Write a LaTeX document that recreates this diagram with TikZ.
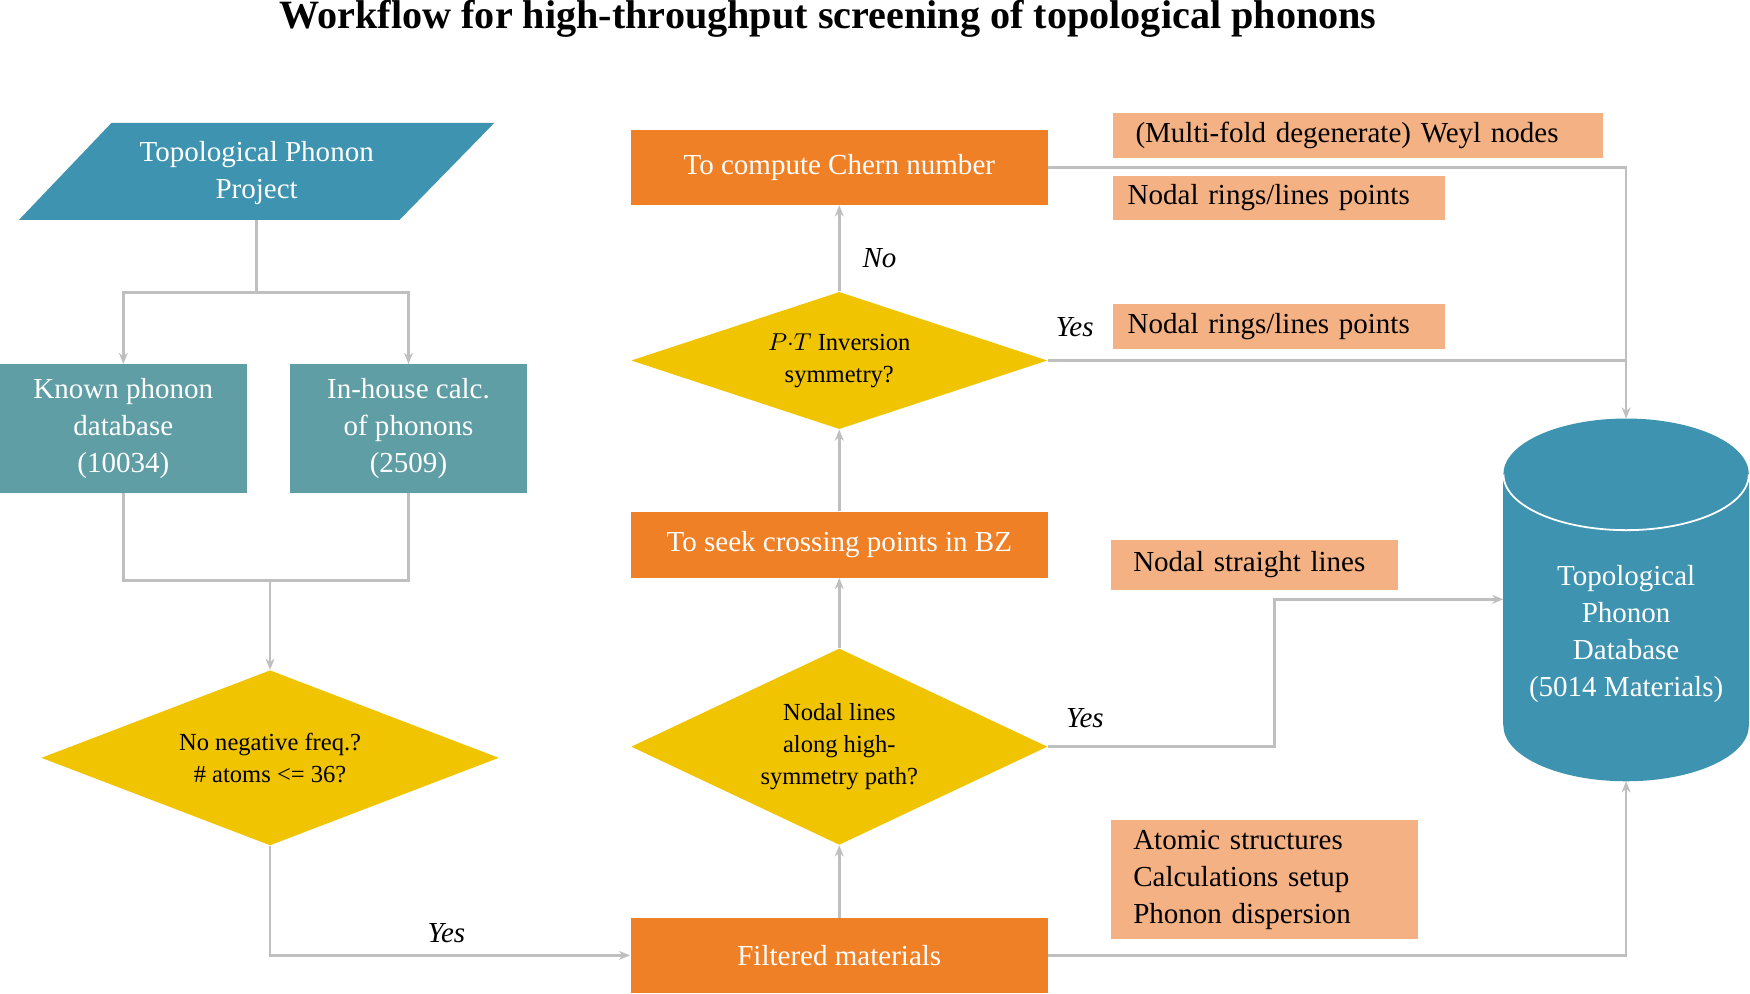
\documentclass[tikz,border=0pt]{standalone}
\usepackage{fontspec}
\setmainfont{Liberation Serif}
\usetikzlibrary{shapes.geometric,arrows.meta}
\definecolor{cblue}{HTML}{3E94B0}
\definecolor{cteal}{HTML}{5E9EA4}
\definecolor{cyel}{HTML}{F0C400}
\definecolor{corg}{HTML}{F08026}
\definecolor{csal}{HTML}{F4B183}
\definecolor{cline}{HTML}{BFBFBF}
\begin{document}
\begin{tikzpicture}[x=0.5pt,y=-0.5pt,
  box/.style={rectangle,inner sep=0pt,text=white,font=\fontsize{13}{16.5}\selectfont,align=center},
  org/.style={box,fill=corg,minimum width=187pt},
  teal/.style={box,fill=cteal,minimum height=57.5pt},
  dia/.style={diamond,aspect=2.6,inner sep=0pt,fill=cyel,font=\fontsize{11}{14.5}\selectfont,align=center},
  sal/.style={rectangle,fill=csal,inner sep=0pt,anchor=north west,font=\fontsize{13}{16.5}\selectfont,align=left},
  lab/.style={font=\itshape\fontsize{13}{16}\selectfont},
  conn/.style={draw=cline,line width=1.2pt},
  arr/.style={conn,-{Stealth[length=5pt,width=4pt]}}]
\useasboundingbox (0,0) rectangle (1568,890);
\node[font=\bfseries\fontsize{18}{22}\selectfont] (title) at (742,17) {Workflow for high-throughput screening of topological phonons};
% parallelogram
\fill[cblue] (100,110) -- (443,110) -- (358,197) -- (17,197) -- cycle;
\node[box] (proj) at (230,155) {Topological Phonon\\Project};
\coordinate (projb) at (230,197);
\node[teal,minimum width=110.5pt] (known) at (110.5,384) {Known phonon\\database\\(10034)};
\node[teal,minimum width=106pt] (inh) at (366,384) {In-house calc.\\of phonons\\(2509)};
\node[dia,minimum width=205pt,minimum height=78.5pt] (d1) at (242,679) {No negative freq.?\\\# atoms <= 36?};
\node[org,minimum height=33.5pt] (filt) at (752,856) {Filtered materials};
\node[dia,minimum width=186.5pt,minimum height=88pt] (d2) at (752,669) {Nodal lines\\along high-\\symmetry path?};
\node[org,minimum height=29.5pt] (seek) at (752,488) {To seek crossing points in BZ};
\node[dia,minimum width=186.5pt,minimum height=61.5pt] (d3) at (752,323) {$P{\cdot}T$ Inversion\\symmetry?};
\node[org,minimum height=33.5pt] (chern) at (752,150) {To compute Chern number};
% labels
\node[sal,text width=219.5pt,minimum height=20pt] (s1) at (997,101) {\hspace*{10pt}(Multi-fold degenerate) Weyl nodes};
\node[sal,text width=148.5pt,minimum height=20pt] (s2) at (997,157) {\hspace*{6.5pt}Nodal rings/lines points};
\node[sal,text width=148.5pt,minimum height=20pt] (s3) at (997,272) {\hspace*{6.5pt}Nodal rings/lines points};
\node[sal,text width=128.5pt,minimum height=22.5pt] (s4) at (995,483) {\hspace*{10pt}Nodal straight lines};
\node[sal,text width=137.5pt,minimum height=53.5pt] (s5) at (995,734) {\hspace*{10pt}\begin{tabular}{@{}l@{}}Atomic structures\\Calculations setup\\Phonon dispersion\end{tabular}};
% cylinder
\fill[cblue] (1347,425) rectangle (1567,650);
\fill[cblue] (1457,650) ellipse[x radius=110,y radius=50];
\fill[cblue] (1457,425) ellipse[x radius=110,y radius=50];
\draw[white,line width=0.8pt] (1347,425) arc[start angle=180,end angle=0,x radius=110,y radius=50];
\node[box] (db) at (1457,568) {Topological\\Phonon\\Database\\(5014 Materials)};
\coordinate (dbt) at (1457,375);
\coordinate (dbb) at (1457,700);
\coordinate (dbl) at (1347,537);
% connectors
\draw[conn] (projb) -- (230,262);
\draw[arr] (230,262) -| (known.north);
\draw[arr] (230,262) -| (inh.north);
\draw[conn] (known.south) |- (366,520) -- (inh.south);
\draw[arr] (242,520) -- (d1.north);
\draw[arr] (d1.south) |- (filt.west);
\node[lab] (y1) at (400,836) {Yes};
\draw[arr] (filt.north) -- (d2.south);
\draw[arr] (d2.north) -- (seek.south);
\draw[arr] (seek.north) -- (d3.south);
\draw[arr] (d3.north) -- (chern.south);
\node[lab] (n1) at (788,231) {No};
\draw[arr] (chern.east) -| (dbt);
\draw[conn] (d3.east) -- (1457,323);
\node[lab] (y2) at (963,293) {Yes};
\draw[arr] (d2.east) -- (1142,669) -- (1142,537) -- (dbl);
\node[lab] (y3) at (972,643) {Yes};
\draw[arr] (filt.east) -| (dbb);
\end{tikzpicture}
\end{document}
